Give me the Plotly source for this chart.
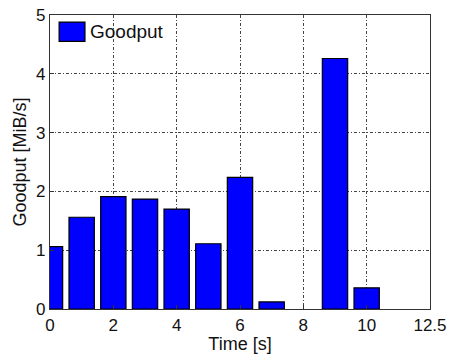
import plotly.graph_objects as go

time_s = [0, 1, 2, 3, 4, 5, 6, 7, 8, 9, 10]
goodput = [1.06, 1.56, 1.91, 1.87, 1.70, 1.11, 2.24, 0.12, None, 4.26, 0.36]
x_ticks = [0, 2, 4, 6, 8, 10, 12]
x_tick_text = ["0", "2", "4", "6", "8", "10", "12.5"]
y_ticks = [0, 1, 2, 3, 4, 5]
series_name = "Goodput"
bar_color = "#0000FF"

fig = go.Figure()
fig.add_trace(go.Bar(
    x=time_s, y=goodput, width=0.8, name=series_name, showlegend=False,
    marker=dict(color=bar_color, line=dict(color="#000000", width=1.2)),
))

axis_common = dict(
    showgrid=True, gridcolor="#444444", griddash="3px,2px,1px,2px", gridwidth=1,
    showline=True, linecolor="#333333", linewidth=1.2, mirror=True,
    ticks="inside", ticklen=4, tickcolor="#333333", zeroline=False,
    tickfont=dict(size=17, color="#111111"), automargin=False,
)
fig.update_xaxes(range=[0, 12], tickvals=x_ticks, ticktext=x_tick_text,
                 title=dict(text="Time [s]", font=dict(size=18, color="#111111"), standoff=2),
                 **axis_common)
fig.update_yaxes(range=[0, 5], tickvals=y_ticks,
                 title=dict(text="Goodput [MiB/s]", font=dict(size=18, color="#111111"), standoff=4),
                 **axis_common)

# legend drawn as swatch + label inside the top-left corner
fig.add_shape(type="rect", xref="paper", yref="paper",
              x0=0.024, x1=0.092, y0=0.910, y1=0.976,
              fillcolor=bar_color, line=dict(color="#000000", width=1.2))
fig.add_annotation(xref="paper", yref="paper", x=0.10, y=0.943,
                   xanchor="left", yanchor="middle", text=series_name,
                   showarrow=False, font=dict(size=19, color="#111111"))

fig.update_layout(
    width=453, height=357,
    margin=dict(l=50, r=23, t=15, b=48),
    plot_bgcolor="white", paper_bgcolor="white",
    font=dict(family="Liberation Sans, Arial, sans-serif", color="#111111"),
    bargap=0.2,
)
fig.write_html("out.html")
